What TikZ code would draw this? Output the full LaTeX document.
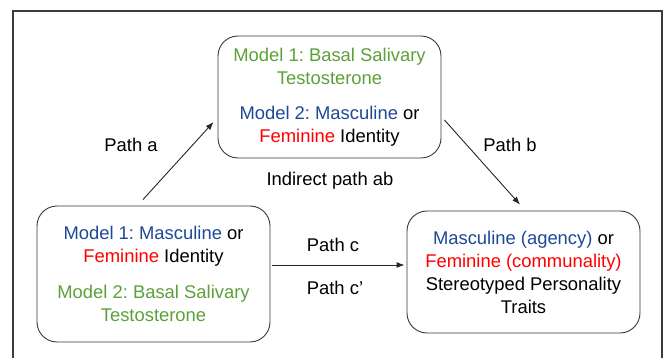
\documentclass[tikz,border=0pt]{standalone}
\usepackage{fontspec}
\setmainfont{Liberation Sans}
\usetikzlibrary{arrows.meta,calc}
\frenchspacing
\definecolor{mgreen}{RGB}{92,160,58}
\definecolor{mblue}{RGB}{30,72,150}
\definecolor{mred}{RGB}{255,0,0}
\definecolor{frame}{RGB}{60,60,60}
\tikzset{
  box/.style={draw=frame!90!black, line width=0.9pt, rounded corners=20pt, align=center,
    inner sep=0pt, font=\fontsize{18.4}{23}\selectfont},
  lbl/.style={font=\fontsize{18.4}{23}\selectfont, inner sep=0pt},
  arr/.style={draw=black!85, line width=0.9pt, -{Latex[length=8pt,width=6pt]}}
}
\begin{document}
\begin{tikzpicture}[x=1pt,y=-1pt]
\useasboundingbox (0,0) rectangle (667,358);
\draw[frame, line width=1.6pt] (13,359) -- (13,11) -- (662,11) -- (662,359);
\node[box, minimum width=223pt, minimum height=122pt] (top) at (329.5,97)
  {\textcolor{mgreen}{Model 1: Basal Salivary}\\
   \textcolor{mgreen}{Testosterone}\\[12pt]
   \textcolor{mblue}{Model 2: Masculine} or\\
   \textcolor{mred}{Feminine} Identity};
\node[box, minimum width=233pt, minimum height=136pt] (left) at (153.5,274)
  {\textcolor{mblue}{Model 1: Masculine} or\\
   \textcolor{mred}{Feminine} Identity\\[13pt]
   \textcolor{mgreen}{Model 2: Basal Salivary}\\
   \textcolor{mgreen}{Testosterone}};
\node[box, minimum width=233pt, minimum height=122pt] (right) at (523.5,272)
  {\textcolor{mblue}{Masculine (agency)} or\\
   \textcolor{mred}{Feminine (communality)}\\
   Stereotyped Personality\\
   Traits};
\coordinate (aS) at ($(left.north)+(-10.5,-6)$);
\coordinate (aE) at ($(top.west)+(-4,25)$);
\coordinate (bS) at ($(top.east)+(3,23)$);
\coordinate (bE) at ($(right.north)+(-3.5,-6)$);
\coordinate (cS) at ($(left.east)+(2,-9)$);
\coordinate (cE) at ($(right.west)+(-2,-7)$);
\draw[arr] (aS) -- (aE);
\draw[arr] (bS) -- (bE);
\draw[arr] (cS) -- (cE);
\node[lbl] (la) at (131,145) {Path a};
\node[lbl] (lb) at (510,145) {Path b};
\node[lbl] (lab) at (330,181) {Indirect path ab};
\node[lbl] (lc) at (333,245) {Path c};
\node[lbl] (lcp) at (335,288) {Path c’};
\end{tikzpicture}
\end{document}
